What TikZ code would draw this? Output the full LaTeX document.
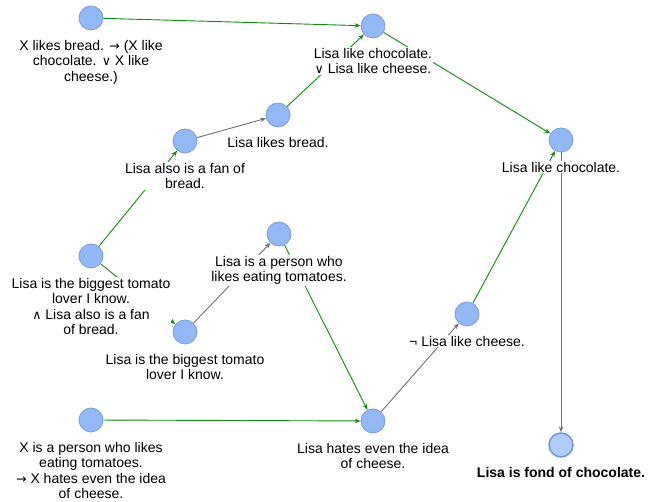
\documentclass[tikz,border=0pt]{standalone}
\usepackage{fontspec}
\setmainfont{Liberation Sans}
\newfontfamily\djv{DejaVu Sans}[Scale=0.9]
\usetikzlibrary{arrows.meta}
\definecolor{nodefill}{HTML}{93B8F5}
\definecolor{nodeline}{HTML}{7A9EE0}
\definecolor{goalfill}{HTML}{AECDFB}
\definecolor{goalline}{HTML}{6B94D6}
\definecolor{edgegreen}{HTML}{118A11}
\definecolor{edgegray}{HTML}{707070}
\tikzset{
  stmt/.style={circle, minimum size=24pt, inner sep=0pt, fill=nodefill, draw=nodeline, line width=0.8pt},
  goal/.style={circle, minimum size=24pt, inner sep=0pt, fill=goalfill, draw=goalline, line width=1.4pt},
  lbl/.style={anchor=north, fill=white, inner sep=1pt, align=center, font=\fontsize{14}{15.5}\selectfont},
  supp/.style={draw=edgegreen, line width=0.9pt, -{Stealth[length=6pt,width=4.5pt]}},
  infer/.style={draw=edgegray, line width=0.9pt, -{Stealth[length=6pt,width=4.5pt]}}
}
\begin{document}
\begin{tikzpicture}[x=1pt,y=-1pt]
\useasboundingbox (0,0) rectangle (657,502);
% statement nodes
\node[stmt] (n1) at (91,18) {};
\node[stmt] (n2) at (373,26) {};
\node[stmt] (n3) at (278,115) {};
\node[stmt] (n4) at (185,141) {};
\node[stmt] (n5) at (91,256) {};
\node[stmt] (n6) at (279,234) {};
\node[stmt] (n7) at (185,332) {};
\node[stmt] (n8) at (91,420) {};
\node[stmt] (n9) at (373,421) {};
\node[stmt] (n10) at (467,314) {};
\node[stmt] (n11) at (561,140) {};
\node[goal] (n12) at (561,445) {};
% connectors
\draw[supp] (n1) -- (n2);
\draw[supp] (n3) -- (n2);
\draw[infer] (n4) -- (n3);
\draw[supp] (n5) -- (n4);
\draw[supp] (n5) -- (n7);
\draw[infer] (n7) -- (n6);
\draw[supp] (n6) -- (n9);
\draw[supp] (n8) -- (n9);
\draw[infer] (n9) -- (n10);
\draw[supp] (n10) -- (n11);
\draw[supp] (n2) -- (n11);
\draw[infer] (n11) -- (n12);
% labels
\node[lbl] (l1) at (91,39) {X likes bread. {\djv →} (X like\\chocolate. {\djv ∨} X like\\cheese.)};
\node[lbl] (l2) at (373,47) {Lisa like chocolate.\\{\djv ∨} Lisa like cheese.};
\node[lbl] (l3) at (278,136) {Lisa likes bread.};
\node[lbl] (l4) at (185,162) {Lisa also is a fan of\\bread.};
\node[lbl] (l5) at (91,277) {Lisa is the biggest tomato\\lover I know.\\{\djv ∧} Lisa also is a fan\\of bread.};
\node[lbl] (l6) at (279,255) {Lisa is a person who\\likes eating tomatoes.};
\node[lbl] (l7) at (185,353) {Lisa is the biggest tomato\\lover I know.};
\node[lbl] (l8) at (91,441) {X is a person who likes\\eating tomatoes.\\{\djv →} X hates even the idea\\of cheese.};
\node[lbl] (l9) at (373,442) {Lisa hates even the idea\\of cheese.};
\node[lbl] (l10) at (467,335) {¬ Lisa like cheese.};
\node[lbl] (l11) at (561,161) {Lisa like chocolate.};
\node[lbl,font=\fontsize{14}{15.5}\selectfont\bfseries] (l12) at (561,466) {Lisa is fond of chocolate.};
\end{tikzpicture}
\end{document}
